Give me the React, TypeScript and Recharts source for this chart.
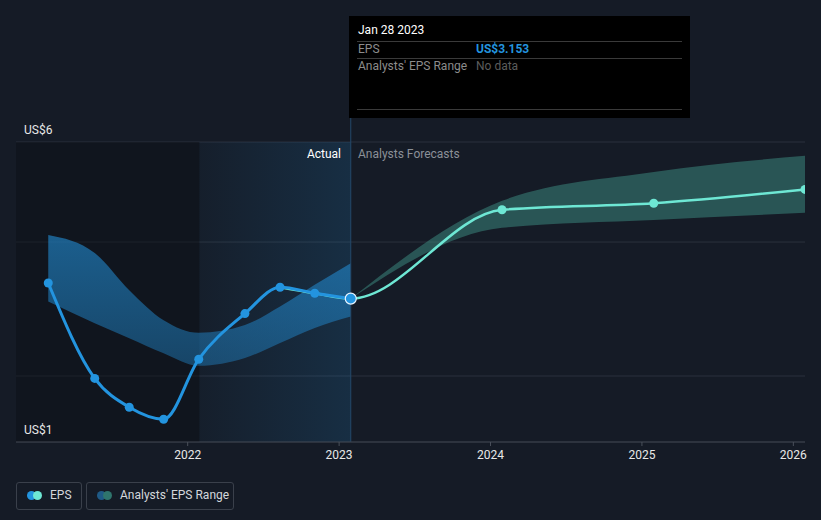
import React from "react"
import {
  Area,
  CartesianGrid,
  ComposedChart,
  Line,
  ReferenceArea,
  ReferenceLine,
  XAxis,
  YAxis,
} from "recharts"

// actual EPS (year as fraction)
const epsYears = [2021.079, 2021.386, 2021.614, 2021.841, 2022.073, 2022.378, 2022.61, 2022.839, 2023.077]
const epsValues = [3.65, 2.06, 1.58, 1.38, 2.38, 3.14, 3.58, 3.48, 3.39]
const pastLow = [3.34, 2.98, 2.73, 2.48, 2.27, 2.4, 2.65, 2.9, 3.09]
const pastHigh = [4.45, 4.15, 3.53, 3.03, 2.82, 2.95, 3.26, 3.62, 3.98]

// analysts forecasts
const forecastYears = [2023.077, 2024.076, 2025.078, 2026.077]
const forecastValues = [3.39, 4.87, 4.98, 5.21]
const forecastLow = [3.39, 4.57, 4.7, 4.82]
const forecastHigh = [3.39, 5.02, 5.5, 5.77]

const xTicks = [2022, 2023, 2024, 2025, 2026]
const yTicks = [1, 2.1, 4.333, 6]
const xDomain = [2020.866, 2026.077]
const lastActual = 2023.077
const yearBefore = 2022.077

const epsData = epsYears.map((x, i) => ({ x, eps: epsValues[i] }))
const pastBand = epsYears.map((x, i) => ({ x, range: [pastLow[i], pastHigh[i]] }))
// the forecast curve carries on from the last actual points so the join stays smooth;
// those leading points sit under the blue line and get no dot
const lead = 2
const forecastData = [
  ...epsData.slice(epsData.length - 1 - lead, epsData.length - 1).map((d) => ({ ...d, lead: true })),
  ...forecastYears.map((x, i) => ({ x, eps: forecastValues[i], lead: i === 0 })),
]
const forecastBand = forecastYears.map((x, i) => ({ x, range: [forecastLow[i], forecastHigh[i]] }))

const font = "Roboto, 'Noto Sans', sans-serif"

const YTick = ({ y, payload }: any) => {
  if (payload.value !== 6 && payload.value !== 1) return <g />
  return (
    <text x={24} y={y - 8} fill="#e8e8e8" fontSize={12} fontFamily={font}>
      US${payload.value}
    </text>
  )
}

const XTick = ({ x, payload }: any) => (
  <text x={x} y={459} fill="#e8e8e8" fontSize={12} textAnchor="middle" fontFamily={font}>
    {payload.value}
  </text>
)

const EpsDot = (props: any) => {
  const { cx, cy, index } = props
  if (index === epsData.length - 1) {
    return <circle key={index} cx={cx} cy={cy} r={5.5} fill="#2394df" stroke="#e8f4ff" strokeWidth={1.2} />
  }
  return <circle key={index} cx={cx} cy={cy} r={4.5} fill="#2394df" />
}

const ForecastDot = (props: any) => {
  const { cx, cy, index, payload } = props
  if (payload.lead) return <g key={index} />
  return <circle key={index} cx={cx} cy={cy} r={4.5} fill="#6ee7d4" />
}

export default function App() {
  return (
    <div
      style={{
        position: "absolute",
        left: 0,
        top: 0,
        width: 821,
        height: 520,
        background: "#151b26",
        fontFamily: font,
        overflow: "hidden",
      }}
    >
      <ComposedChart width={821} height={520} margin={{ top: 142, right: 16, bottom: 48, left: 8 }}>
        <defs>
          <linearGradient id="actualFill" x1="0" y1="0" x2="1" y2="0">
            <stop offset="0%" stopColor="#2394df" stopOpacity={0.03} />
            <stop offset="100%" stopColor="#2394df" stopOpacity={0.16} />
          </linearGradient>
          <linearGradient id="pastBandFill" x1="0" y1="0" x2="0" y2="1">
            <stop offset="0%" stopColor="#2394df" stopOpacity={0.58} />
            <stop offset="100%" stopColor="#2394df" stopOpacity={0.38} />
          </linearGradient>
        </defs>
        <ReferenceArea x1={xDomain[0]} x2={yearBefore} fill="#0b0f16" fillOpacity={0.45} stroke="none" />
        <ReferenceArea x1={yearBefore} x2={lastActual} fill="url(#actualFill)" fillOpacity={1} stroke="none" />
        <CartesianGrid vertical={false} stroke="#2b313c" />
        <XAxis
          type="number"
          dataKey="x"
          domain={xDomain}
          ticks={xTicks}
          allowDataOverflow
          tick={<XTick />}
          tickSize={4}
          height={30}
          tickLine={{ stroke: "#4a505b" }}
          axisLine={{ stroke: "#3c424d" }}
        />
        <YAxis type="number" domain={[1, 6]} ticks={yTicks} width={8} axisLine={false} tickLine={false} tick={<YTick />} />
        <ReferenceLine
          segment={[
            { x: lastActual, y: 1 },
            { x: lastActual, y: 6.42 },
          ]}
          stroke="#24496b"
          strokeWidth={1}
          ifOverflow="visible"
        />
        <Area
          data={pastBand}
          dataKey="range"
          type="monotone"
          stroke="none"
          fill="url(#pastBandFill)"
          fillOpacity={1}
          isAnimationActive={false}
        />
        <Area
          data={forecastBand}
          dataKey="range"
          type="monotone"
          stroke="none"
          fill="#3d8f84"
          fillOpacity={0.5}
          isAnimationActive={false}
        />
        <Line
          data={forecastData}
          dataKey="eps"
          type="monotone"
          stroke="#6ee7d4"
          strokeWidth={2.5}
          dot={<ForecastDot />}
          isAnimationActive={false}
        />
        <Line
          data={epsData}
          dataKey="eps"
          type="monotone"
          stroke="#2394df"
          strokeWidth={3}
          dot={<EpsDot />}
          isAnimationActive={false}
        />
      </ComposedChart>

      <div style={{ position: "absolute", left: 250, width: 91, top: 147, textAlign: "right", color: "#ffffff", fontSize: 12 }}>
        Actual
      </div>
      <div style={{ position: "absolute", left: 358, top: 147, color: "#8b9098", fontSize: 12 }}>Analysts Forecasts</div>

      {/* tooltip */}
      <div style={{ position: "absolute", left: 349, top: 16, width: 341, height: 102, background: "#000000" }}>
        <div style={{ position: "absolute", left: 9, top: 7, color: "#ffffff", fontSize: 12 }}>Jan 28 2023</div>
        <div style={{ position: "absolute", left: 8, right: 8, top: 25, height: 1, background: "#3a3a3a" }} />
        <div style={{ position: "absolute", left: 9, top: 24, color: "#8c8c8c", fontSize: 12, lineHeight: "18px" }}>EPS</div>
        <div style={{ position: "absolute", left: 127, top: 24, color: "#2394df", fontSize: 12, fontWeight: 700, lineHeight: "18px" }}>
          US$3.153
        </div>
        <div style={{ position: "absolute", left: 8, right: 8, top: 42, height: 1, background: "#3a3a3a" }} />
        <div style={{ position: "absolute", left: 9, top: 41, color: "#8c8c8c", fontSize: 12, lineHeight: "18px" }}>
          Analysts' EPS Range
        </div>
        <div style={{ position: "absolute", left: 127, top: 41, color: "#5c5c5c", fontSize: 12, lineHeight: "18px" }}>No data</div>
        <div style={{ position: "absolute", left: 8, right: 8, top: 93, height: 1, background: "#3a3a3a" }} />
      </div>

      {/* legend */}
      <div
        style={{
          position: "absolute",
          left: 16,
          top: 482,
          width: 64,
          height: 26,
          border: "1px solid #3a404b",
          borderRadius: 3,
        }}
      >
        <span style={{ position: "absolute", left: 10, top: 8, width: 9, height: 9, borderRadius: 5, background: "#2394df" }} />
        <span style={{ position: "absolute", left: 16, top: 8, width: 9, height: 9, borderRadius: 5, background: "#6ee7d4" }} />
        <span style={{ position: "absolute", left: 33, top: 5, color: "#d4d7dc", fontSize: 12 }}>EPS</span>
      </div>
      <div
        style={{
          position: "absolute",
          left: 86,
          top: 482,
          width: 146,
          height: 26,
          border: "1px solid #3a404b",
          borderRadius: 3,
        }}
      >
        <span style={{ position: "absolute", left: 10, top: 8, width: 9, height: 9, borderRadius: 5, background: "#1f5a86" }} />
        <span style={{ position: "absolute", left: 16, top: 8, width: 9, height: 9, borderRadius: 5, background: "#2f756d" }} />
        <span style={{ position: "absolute", left: 33, top: 5, color: "#d4d7dc", fontSize: 12 }}>Analysts' EPS Range</span>
      </div>
    </div>
  )
}
